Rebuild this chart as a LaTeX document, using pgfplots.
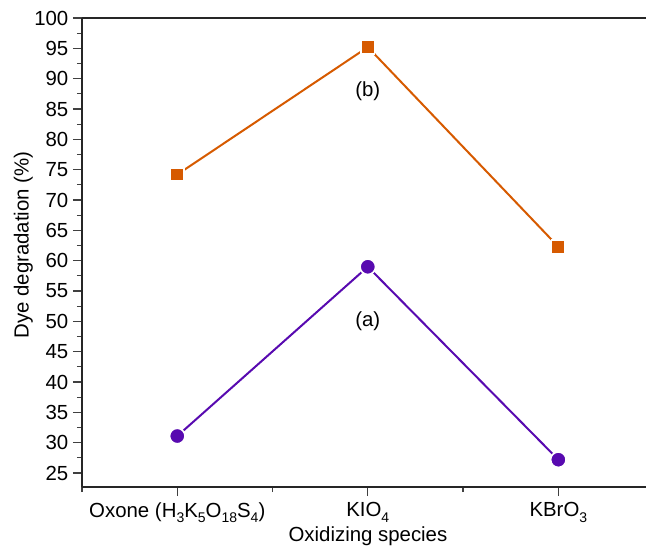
\documentclass[border=0pt]{standalone}
\usepackage{pgfplots}
\pgfplotsset{compat=1.18}
\usepackage{fontspec}
\setmainfont{Liberation Sans}

\definecolor{lineB}{RGB}{214,90,0}
\definecolor{lineA}{RGB}{88,10,176}
\newcommand{\sub}[1]{\raisebox{-0.5ex}{\fontsize{10.5}{11}\selectfont #1}}

\begin{document}
\begin{tikzpicture}
\useasboundingbox (-61.5pt,-44.25pt) rectangle (423pt,365.25pt);
\begin{axis}[
    at={(0,0)}, anchor=south west,
    scale only axis,
    width=423pt, height=351.75pt,
    xmin=-0.5, xmax=2.46,
    ymin=22.7, ymax=100,
    axis x line*=bottom, axis y line*=left,
    axis line style={line width=0.9pt, black!85},
    xtick={0,1,2},
    xticklabels={Oxone (H\sub{3}K\sub{5}O\sub{18}S\sub{4}), KIO\sub{4}, KBrO\sub{3}},
    minor xtick={-0.5,0.5,1.5},
    ytick={25,30,...,100},
    minor ytick={27.5,32.5,...,97.5},
    tick align=outside,
    major tick length=6.75pt,
    minor tick length=3.75pt,
    tick style={line width=0.9pt, black!75},
    /pgf/number format/assume math mode=true,
    ticklabel style={font=\fontsize{15.3}{17}\selectfont},
    xticklabel style={yshift=-1.5pt},
    label style={font=\fontsize{15.3}{17}\selectfont},
    xlabel={Oxidizing species},
    ylabel={Dye degradation (\%)},
    xlabel style={at={(axis description cs:0.507,-0.104)}, anchor=center},
    ylabel style={at={(axis description cs:-0.104,0.516)}, anchor=center, rotate=0},
    clip=false,
]
\draw[line width=0.9pt, black!85] (rel axis cs:0,1) -- (rel axis cs:1,1);
\addplot[lineB, line width=1.5pt, mark=square*, mark size=5pt,
    mark options={fill=lineB, draw=white, line width=1.2pt}]
    coordinates {(0,74.2) (1,95.2) (2,62.3)};
\addplot[lineA, line width=1.5pt, mark=*, mark size=5.8pt,
    mark options={fill=lineA, draw=white, line width=1.2pt}]
    coordinates {(0,31.1) (1,59.0) (2,27.2)};
\node[font=\fontsize{15.3}{17}\selectfont] at (axis cs:1,87.9) {(b)};
\node[font=\fontsize{15.3}{17}\selectfont] at (axis cs:1,50.0) {(a)};
\end{axis}
\end{tikzpicture}
\end{document}
